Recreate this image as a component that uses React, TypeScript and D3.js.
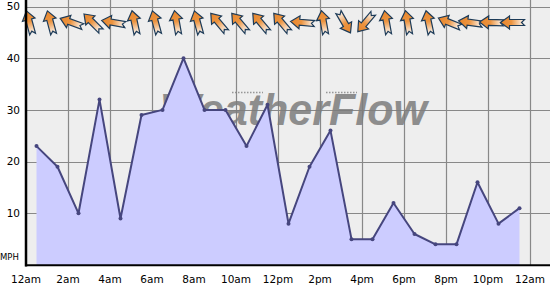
import React from "react";
import * as d3 from "d3";

const hours = [0.5,1.5,2.5,3.5,4.5,5.5,6.5,7.5,8.5,9.5,10.5,11.5,12.5,13.5,14.5,15.5,16.5,17.5,18.5,19.5,20.5,21.5,22.5,23.5];
const speeds = [23,19,10,32,9,29,30,40,30,30,23,31,8,19,26,5,5,12,6,4,4,16,8,11];
const directions = [-15,-15,-70,-45,-80,-12,-15,-10,-15,-40,-40,-40,-40,-85,-10,150,220,-10,-10,-12,-68,-82,-88,-90];
const xTickHours = [0,2,4,6,8,10,12,14,16,18,20,22,24];
const xTickLabels = ["12am","2am","4am","6am","8am","10am","12pm","2pm","4pm","6pm","8pm","10pm","12am"];
const yTicks = [10,20,30,40,50];

const W = 550, H = 285;
const font = "'DejaVu Sans', Verdana, sans-serif";

export default function App() {
  const x = d3.scaleLinear().domain([0, 24]).range([26, 530]);
  const y = d3.scaleLinear().domain([0, 50]).range([265, 6.5]);
  const pts = hours.map((h, i) => [h, speeds[i]] as [number, number]);
  const area = d3.area<[number, number]>().x(d => x(d[0])).y0(y(0)).y1(d => y(d[1]));
  const line = d3.line<[number, number]>().x(d => x(d[0])).y(d => y(d[1]));
  const arrowPath = "M0,-12 L6.5,-3 L3,-3 L3,12 L0,9 L-3,12 L-3,-3 L-6.5,-3 Z";

  return (
    <svg width={W} height={H} style={{ position: "absolute", left: 0, top: 0 }}>
      <defs>
        <linearGradient id="ag" gradientUnits="userSpaceOnUse" x1="0" y1="-12" x2="0" y2="12">
          <stop offset="0" stopColor="#e8862c" />
          <stop offset="0.45" stopColor="#ec9440" />
          <stop offset="1" stopColor="#ffffff" />
        </linearGradient>
      </defs>
      <rect x={0} y={0} width={W} height={H} fill="#ffffff" />
      <rect x={26} y={0} width={W - 26} height={265} fill="#eeeeee" />
      {/* grid */}
      {yTicks.map(t => (
        <line key={"gy" + t} x1={26} x2={W} y1={Math.round(y(t)) + 0.5} y2={Math.round(y(t)) + 0.5} stroke="#888" strokeWidth={1.2} />
      ))}
      {xTickHours.slice(1).map(t => (
        <line key={"gx" + t} x1={Math.round(x(t)) + 0.5} x2={Math.round(x(t)) + 0.5} y1={0} y2={265} stroke="#888" strokeWidth={1.2} />
      ))}
      {/* watermark */}
      <g opacity={0.85}>
        <text x={160} y={125} fontFamily="'Liberation Sans', Arial, sans-serif" fontWeight="bold" fontStyle="italic" fontSize={44} fill="#7d7d7d" textLength={267} lengthAdjust="spacingAndGlyphs">WeatherFlow</text>
        <line x1={232} x2={263} y1={92.5} y2={92.5} stroke="#888" strokeWidth={1.5} strokeDasharray="1.5,1.5" />
        <line x1={326} x2={357} y1={92.5} y2={92.5} stroke="#888" strokeWidth={1.5} strokeDasharray="1.5,1.5" />
      </g>
      {/* area + line */}
      <path d={area(pts) || ""} fill="#ccccff" />
      <path d={line(pts) || ""} fill="none" stroke="#46467e" strokeWidth={2} strokeLinejoin="round" />
      {pts.map((p, i) => (
        <circle key={"c" + i} cx={x(p[0])} cy={y(p[1])} r={2} fill="#46467e" />
      ))}
      {/* arrows */}
      {hours.map((h, i) => (
        <g key={"a" + i} transform={`translate(${x(h) - 7},22.5) rotate(${directions[i]})`}>
          <path d={arrowPath} fill="url(#ag)" stroke="#1d3b58" strokeWidth={1.2} strokeLinejoin="miter" />
        </g>
      ))}
      {/* axes */}
      <line x1={26} x2={26} y1={0} y2={266.5} stroke="#000" strokeWidth={2.5} />
      <line x1={25} x2={W} y1={265.3} y2={265.3} stroke="#000" strokeWidth={2} />
      {/* labels */}
      {yTicks.map(t => (
        <text key={"yl" + t} x={20} y={y(t)} dy="0.36em" textAnchor="end" fontFamily={font} fontSize={10.5} fill="#000">{t}</text>
      ))}
      <text x={0} y={256.5} dy="0.36em" fontFamily={font} fontSize={8.5} fill="#000">MPH</text>
      {xTickHours.map((t, i) => (
        <text key={"xl" + t} x={x(t)} y={279} dy="0.36em" textAnchor="middle" fontFamily={font} fontSize={10.5} fill="#000">{xTickLabels[i]}</text>
      ))}
    </svg>
  );
}
